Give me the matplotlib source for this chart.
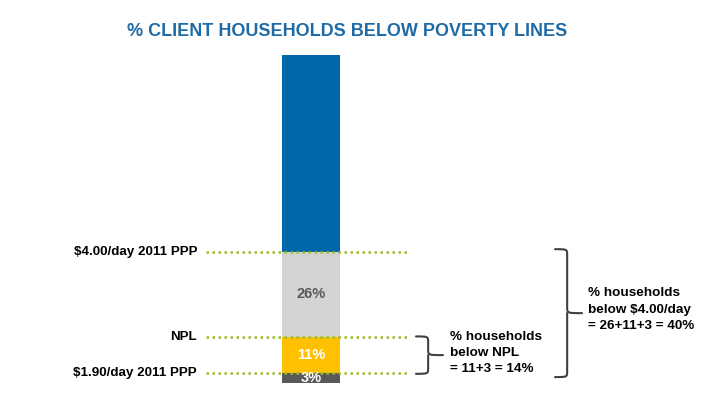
import matplotlib
matplotlib.use("Agg")
import matplotlib.pyplot as plt
from matplotlib.path import Path
from matplotlib.patches import PathPatch

plt.rcParams['font.family'] = ['Liberation Sans', 'DejaVu Sans']

# ---- data ----
segment_names = ["Below $1.90/day", "$1.90 to NPL", "NPL to $4.00/day", "Above $4.00/day"]
segment_values = [3, 11, 26, 60]
segment_labels = ["3%", "11%", "26%", ""]
line_labels = ["$1.90/day 2011 PPP", "NPL", "$4.00/day 2011 PPP"]
title = "% CLIENT HOUSEHOLDS BELOW POVERTY LINES"
note_npl = "% households\nbelow NPL\n= 11+3 = 14%"
note_400 = "% households\nbelow $4.00/day\n= 26+11+3 = 40%"

colors = ["#595959", "#FFC000", "#D3D3D3", "#0067A8"]
text_colors = ["white", "white", "#595959", "white"]

W, H = 716, 395
fig = plt.figure(figsize=(W / 100, H / 100), dpi=100)
y0_px, y1_px = 383, 55
ax = fig.add_axes([0, (H - y0_px) / H, 1, (y0_px - y1_px) / H])
ax.set_xlim(0, W)
ax.set_ylim(0, 100)
ax.axis("off")
px_per_unit = (y0_px - y1_px) / 100.0

bar_x, bar_w = 311, 58
bottom = 0
cums = []
for v, c, lab, tc in zip(segment_values, colors, segment_labels, text_colors):
    ax.bar(bar_x, v, width=bar_w, bottom=bottom, color=c, zorder=2)
    if lab:
        ax.text(bar_x, bottom + v / 2, lab, ha="center", va="center",
                color=tc, fontsize=10.5, fontweight="bold", zorder=4)
    bottom += v
    cums.append(bottom)

# poverty lines at cumulative boundaries
for yv, lab in zip(cums[:3], line_labels):
    ax.plot([206, 409], [yv, yv], linestyle=(0, (1, 1.4)), color="#9DBB2E",
            linewidth=1.8, zorder=3)
    ax.text(197, yv, lab, ha="right", va="center", fontsize=9.6,
            fontweight="bold", color="black")


def brace(x0, ytop, ybot, w, color="#404040"):
    r = 6 / px_per_unit  # curl radius in y units
    xm = x0 + w * 0.45
    ymid = (ytop + ybot) / 2
    verts = [
        (x0, ytop), (xm, ytop), (xm, ytop), (xm, ytop - r),
        (xm, ymid + r),
        (xm, ymid), (xm, ymid), (x0 + w, ymid),
        (xm, ymid), (xm, ymid), (xm, ymid - r),
        (xm, ybot + r),
        (xm, ybot), (xm, ybot), (x0, ybot),
    ]
    codes = [Path.MOVETO, Path.CURVE4, Path.CURVE4, Path.CURVE4,
             Path.LINETO,
             Path.CURVE4, Path.CURVE4, Path.CURVE4,
             Path.MOVETO, Path.CURVE4, Path.CURVE4,
             Path.LINETO,
             Path.CURVE4, Path.CURVE4, Path.CURVE4]
    ax.add_patch(PathPatch(Path(verts, codes), fill=False, edgecolor=color,
                           linewidth=1.5, capstyle="round", zorder=3))


brace(416, cums[1] + 0.2, cums[0] - 0.2, 27)
brace(555, cums[2] + 0.8, 1.8, 27)

ax.text(450, 9.1, note_npl, ha="left", va="center",
        fontsize=9.7, fontweight="bold", color="black", linespacing=1.45)
ax.text(588, 22.3, note_400, ha="left", va="center",
        fontsize=9.7, fontweight="bold", color="black", linespacing=1.5)

fig.text(347 / W, 1 - 31 / H, title, ha="center", va="center",
         fontsize=13, fontweight="bold", color="#1F6BA5")

fig.savefig("out.png", dpi=100)
